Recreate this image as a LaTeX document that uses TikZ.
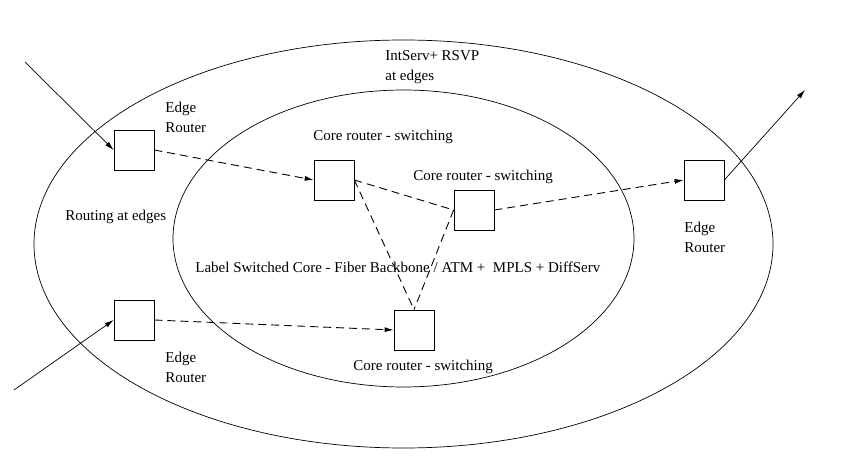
\documentclass[tikz,border=0pt]{standalone}
\usepackage{fontspec}
\setmainfont{Liberation Serif}
\usetikzlibrary{arrows.meta}
\tikzset{
  router/.style={draw, minimum size=40pt, inner sep=0pt},
  txt/.style={font=\fontsize{15}{20}\selectfont, inner sep=0pt, align=left, anchor=west},
  link/.style={dash pattern=on 8pt off 5pt, line width=0.9pt},
  tip/.style={-{Latex[length=9pt,width=5pt]}},
}
\begin{document}
\begin{tikzpicture}[x=1pt, y=-1pt, line width=0.7pt]
    \useasboundingbox (0,0) rectangle (862,465);

    % Regions
    \draw (403.5,244) ellipse [x radius=369.5pt, y radius=204pt];
    \draw (403.5,238.5) ellipse [x radius=230.5pt, y radius=148.5pt];
    \node[txt] (intserv) at (385,67) {IntServ+ RSVP\\at edges};
    \node[txt] (routing) at (65,217) {Routing at edges};
    \node[txt] (core) at (195,267) {Label Switched Core - Fiber Backbone / ATM +\ \ MPLS + DiffServ};

    % Edge routers
    \node[router] (er1) at (134,150) {};
    \node[txt] (er1lbl) at (165,117) {Edge\\Router};
    \node[router] (er2) at (134,320) {};
    \node[txt] (er2lbl) at (165,367) {Edge\\Router};
    \node[router] (er3) at (704,180) {};
    \node[txt] (er3lbl) at (684,237) {Edge\\Router};

    % Core routers
    \node[router] (cr1) at (334,180) {};
    \node[txt] (cr1lbl) at (313,137) {Core router - switching};
    \node[router] (cr2) at (474,210) {};
    \node[txt] (cr2lbl) at (413,177) {Core router - switching};
    \node[router] (cr3) at (414,330) {};
    \node[txt] (cr3lbl) at (353,367) {Core router - switching};

    % Traffic in and out
    \coordinate (in1) at (25,62);
    \coordinate (in2) at (14,390);
    \coordinate (out) at (805,90);
    \draw[tip] (in1) -- (er1.west);
    \draw[tip] (in2) -- (er2.west);
    \draw[tip] (er3.east) -- (out);

    % Label switched paths
    \draw[link, tip] (er1.east) -- (cr1.west);
    \draw[link, tip] (er2.east) -- (cr3.west);
    \draw[link, tip] (cr2.east) -- (er3.west);
    \draw[link] (cr1.east) -- (cr2.west);
    \draw[link] (cr1.east) -- (cr3.north);
    \draw[link] (cr2.west) -- (cr3.north);

\end{tikzpicture}
\end{document}
